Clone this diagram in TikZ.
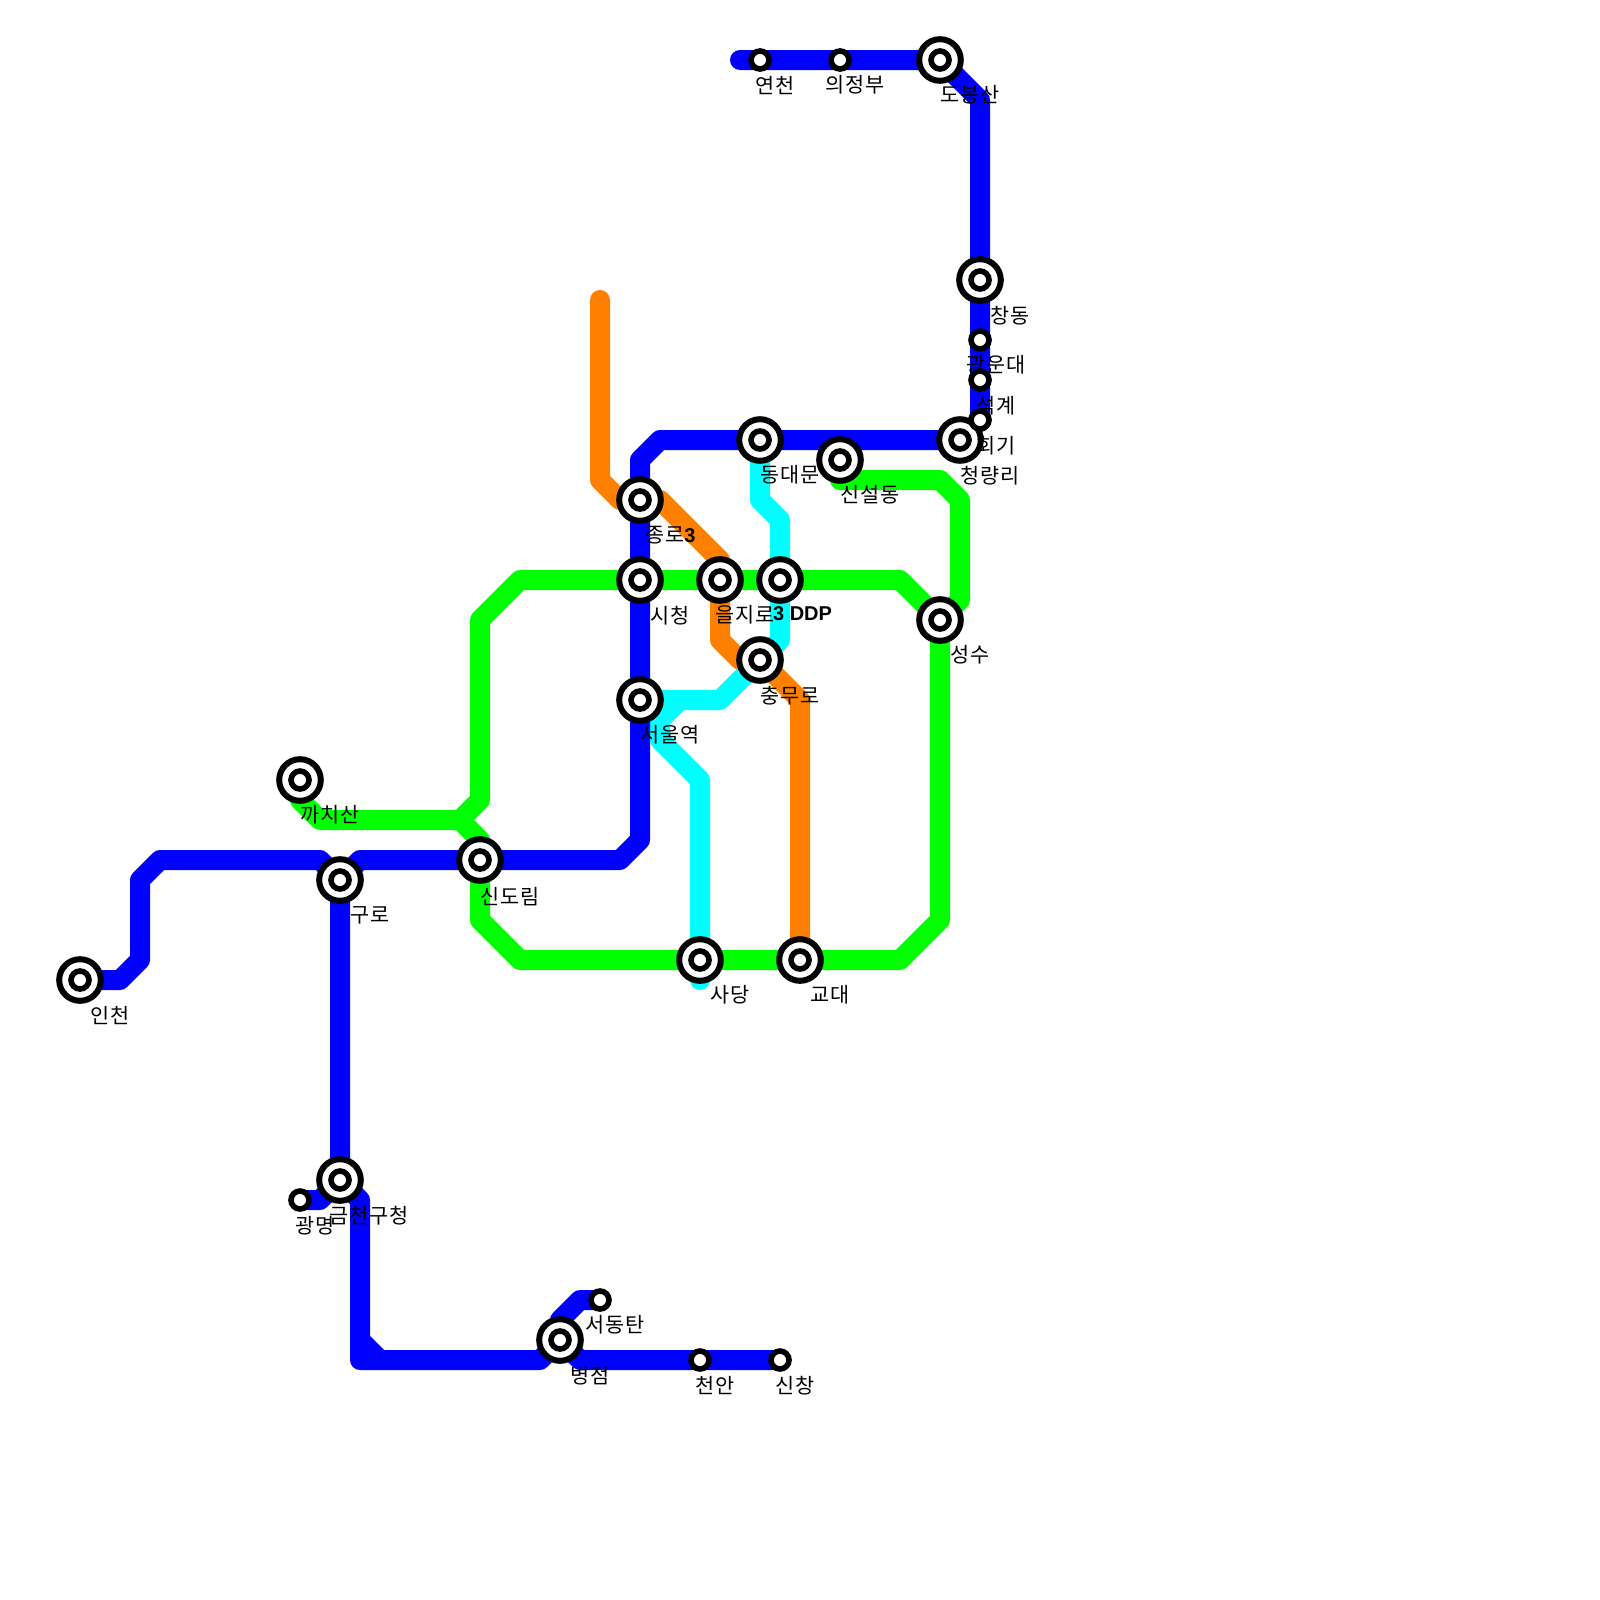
\documentclass[tikz,border=0pt]{standalone}
\usepackage{fontspec}
\setmainfont[LetterSpace=5]{Noto Sans CJK KR}
\newfontfamily\latinfont{Liberation Sans}
\usepackage{tikz}
\usetikzlibrary{positioning}
\definecolor{lineblue}{RGB}{0, 0, 255}
\definecolor{linegreen}{RGB}{0, 255, 0}
\definecolor{linecyan}{RGB}{0, 255, 255}
\definecolor{lineorange}{RGB}{255, 128, 0}
\pgfdeclarelayer{lines}
\pgfsetlayers{lines,main}
\newcommand{\boldlatin}[1]{{\latinfont\fontsize{28.45}{34}\selectfont\bfseries #1}}

\begin{document}
\begin{tikzpicture}[x=1cm, y=-1cm,
    metro/.style={line width=1cm, line cap=round, line join=round},
    hub/.style={circle, draw=black, fill=white, line width=0.3cm, outer sep=0pt, minimum size=2.08cm, inner sep=0pt},
    hubcore/.style={circle, draw=black, fill=white, line width=0.28cm, outer sep=0pt, minimum size=0.9cm, inner sep=0pt},
    halt/.style={circle, draw=black, fill=white, line width=0.28cm, outer sep=0pt, minimum size=0.9cm, inner sep=0pt},
    stlabel/.style={anchor=west, inner sep=0pt, yshift=-0.06cm, font=\fontsize{29.5}{34}\selectfont, text=black}]
  \useasboundingbox (0,0) rectangle (80,80);

  % transfer stations
  \foreach \st/\x/\y in {incheon/4/49, guro/17/44, geumcheon/17/59, sindorim/24/43, kkachisan/15/39,
      byeongjeom/28/67, jongno/32/25, cityhall/32/29, seoulst/32/35, euljiro/36/29, ddp/39/29,
      chungmuro/38/33, dongdaemun/38/22, sinseol/42/23, cheongnyangni/48/22, seongsu/47/31,
      sadang/35/48, gyodae/40/48, dobongsan/47/3, changdong/49/14} {
    \node[hub] (\st) at (\x,\y) {};
    \node[hubcore] (\st-core) at (\x,\y) {};
  }
  % plain stations
  \foreach \st/\x/\y in {yeoncheon/38/3, uijeongbu/42/3, kwangwoon/49/17, seokgye/49/19, hoegi/49/21,
      gwangmyeong/15/60, seodongtan/30/65, cheonan/35/68, sinchang/39/68} {
    \node[halt] (\st) at (\x,\y) {};
  }

  \begin{pgfonlayer}{lines}
    % green
    \draw[metro, linegreen] (kkachisan.center) -- (15,40) -- (16,41) -- (23,41) -- (24,40) -- (24,31)
      -- (26,29) -- (45,29) -- (seongsu.center);
    \draw[metro, linegreen] (23,41) -- (24,42) -- (sindorim.center) -- (24,46) -- (26,48) -- (45,48) -- (47,46)
      -- (seongsu.center) -- (48,30) -- (48,25) -- (47,24) -- (42,24) -- (sinseol.center);
    % orange
    \draw[metro, lineorange] (30,15) -- (30,24) -- (31,25) -- (33,25) -- (36,28) -- (36,32) -- (37,33)
      -- (38,33) -- (40,35) -- (gyodae.center);
    % cyan
    \draw[metro, linecyan] (dongdaemun.center) -- (38,25) -- (39,26) -- (39,32) -- (36,35) -- (34,35)
      -- (33,36) -- (33,37) -- (35,39) -- (35,49);
    \draw[metro, linecyan] (seoulst.center) -- (34,35);
    % blue
    \draw[metro, lineblue] (37,3) -- (dobongsan.center) -- (49,5) -- (hoegi.center) -- (cheongnyangni.center)
      -- (33,22) -- (32,23) -- (32,42) -- (31,43) -- (18,43) -- (guro.center);
    \draw[metro, lineblue] (incheon.center) -- (6,49) -- (7,48) -- (7,44) -- (8,43) -- (16,43)
      -- (guro.center) -- (geumcheon.center);
    \draw[metro, lineblue] (gwangmyeong.center) -- (16,60) -- (geumcheon.center) -- (18,60) -- (18,68)
      -- (27,68) -- (byeongjeom.center) -- (29,68) -- (sinchang.center);
    \draw[metro, lineblue] (18,67) -- (19,68);
    \draw[metro, lineblue] (byeongjeom.center) -- (28,66) -- (29,65) -- (seodongtan.center);
  \end{pgfonlayer}

  % station names
  \node[stlabel] (incheon-name) at (4.5,50.7) {인천};
  \node[stlabel] (kkachisan-name) at (15,40.7) {까치산};
  \node[stlabel] (guro-name) at (17.5,45.7) {구로};
  \node[stlabel] (sindorim-name) at (24,44.75) {신도림};
  \node[stlabel] (geumcheon-name) at (16.45,60.7) {금천구청};
  \node[stlabel] (gwangmyeong-name) at (14.75,61.2) {광명};
  \node[stlabel] (seodongtan-name) at (29.25,66.2) {서동탄};
  \node[stlabel] (byeongjeom-name) at (28.5,68.7) {병점};
  \node[stlabel] (cheonan-name) at (34.75,69.2) {천안};
  \node[stlabel] (sinchang-name) at (38.75,69.2) {신창};
  \node[stlabel] (sadang-name) at (35.5,49.7) {사당};
  \node[stlabel] (gyodae-name) at (40.5,49.7) {교대};
  \node[stlabel] (seoulst-name) at (32,36.7) {서울역};
  \node[stlabel] (cityhall-name) at (32.5,30.7) {시청};
  \node[stlabel] (jongno-name) at (32.25,26.7) {종로\boldlatin{3}};
  \node[stlabel] (euljiro-name) at (35.75,30.7) {을지로};
  \node[stlabel] (ddp-name) at (38.65,30.6) {\boldlatin{3 DDP}};
  \node[stlabel] (chungmuro-name) at (38,34.7) {충무로};
  \node[stlabel] (dongdaemun-name) at (38,23.7) {동대문};
  \node[stlabel] (sinseol-name) at (42,24.7) {신설동};
  \node[stlabel] (cheongnyangni-name) at (48,23.7) {청량리};
  \node[stlabel] (seongsu-name) at (47.5,32.7) {성수};
  \node[stlabel] (hoegi-name) at (48.8,22.25) {회기};
  \node[stlabel] (seokgye-name) at (48.8,20.25) {석계};
  \node[stlabel] (kwangwoon-name) at (48.3,18.2) {광운대};
  \node[stlabel] (changdong-name) at (49.5,15.7) {창동};
  \node[stlabel] (dobongsan-name) at (47,4.7) {도봉산};
  \node[stlabel] (uijeongbu-name) at (41.25,4.2) {의정부};
  \node[stlabel] (yeoncheon-name) at (37.75,4.2) {연천};
\end{tikzpicture}
\end{document}
